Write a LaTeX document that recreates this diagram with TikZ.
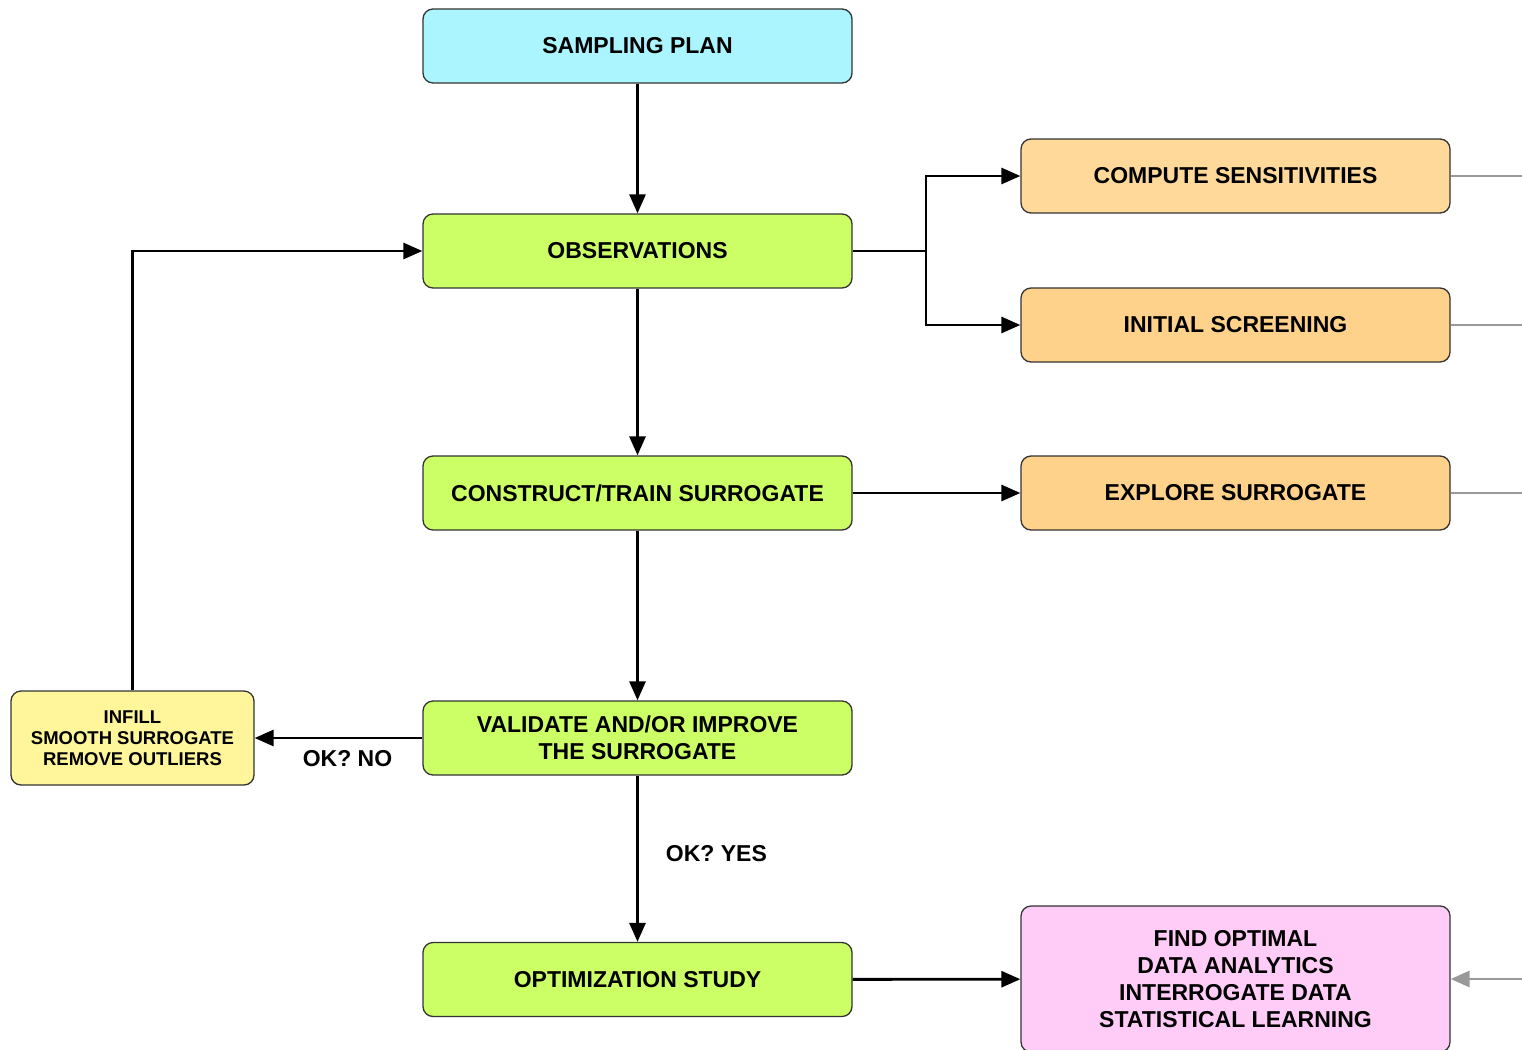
\documentclass[tikz,border=0pt]{standalone}
\usepackage{fontspec}
\setmainfont{Liberation Sans}
\usetikzlibrary{arrows.meta}
\definecolor{plancyan}{HTML}{AAF5FF}
\definecolor{stepgreen}{HTML}{CCFF66}
\definecolor{sensorange}{HTML}{FFD99A}
\definecolor{exporange}{HTML}{FFD28C}
\definecolor{fixyellow}{HTML}{FFF59A}
\definecolor{resultpink}{HTML}{FFCCF7}
\definecolor{feedgray}{HTML}{999999}
\tikzset{
  box/.style={draw=black!80, line width=1.3pt, rounded corners=10pt,
    minimum width=429pt, minimum height=74pt, inner sep=0pt, align=center,
    font=\fontsize{23}{27}\selectfont\bfseries},
  flow/.style={draw=black, line width=2.9pt, -{Triangle[length=19pt,width=16pt]}},
  plainflow/.style={draw=black, line width=2.9pt},
  feed/.style={draw=feedgray, line width=2.9pt},
  feedarrow/.style={feed, -{Triangle[length=19pt,width=16pt]}},
  lbl/.style={font=\fontsize{23}{27}\selectfont\bfseries, inner sep=0pt}
}
\begin{document}
\begin{tikzpicture}[x=1pt, y=-1pt]
\useasboundingbox (0,0) rectangle (1522,1049);

% main chain
\node[box, fill=plancyan]  (plan)  at (637.5,46)  {SAMPLING PLAN};
\node[box, fill=stepgreen] (obs)   at (637.5,251) {OBSERVATIONS};
\node[box, fill=stepgreen] (train) at (637.5,493) {CONSTRUCT/TRAIN SURROGATE};
\node[box, fill=stepgreen] (valid) at (637.5,738) {VALIDATE AND/OR IMPROVE\\THE SURROGATE};
\node[box, fill=stepgreen] (optim) at (637.5,979.5) {OPTIMIZATION STUDY};

% side outputs
\node[box, fill=sensorange] (sens)    at (1235.5,176) {COMPUTE SENSITIVITIES};
\node[box, fill=exporange]  (screen)  at (1235.5,325) {INITIAL SCREENING};
\node[box, fill=exporange]  (explore) at (1235.5,493) {EXPLORE SURROGATE};
\node[box, fill=resultpink, minimum height=146pt] (find) at (1235.5,979)
  {FIND OPTIMAL\\DATA ANALYTICS\\INTERROGATE DATA\\STATISTICAL LEARNING};

% repair step
\node[box, fill=fixyellow, minimum width=243pt, minimum height=94pt,
  font=\fontsize{18.5}{21}\selectfont\bfseries] (fix) at (132.5,738)
  {INFILL\\SMOOTH SURROGATE\\REMOVE OUTLIERS};

% branch point and loose ends
\coordinate (split) at (926,251);
\coordinate (sensout)    at (1522,176);
\coordinate (screenout)  at (1522,325);
\coordinate (exploreout) at (1522,493);
\coordinate (findin)     at (1522,979);
\coordinate (loop)       at (132.5,251);

% connectors
\draw[flow] (plan) -- (obs);
\draw[flow] (obs) -- (train);
\draw[flow] (train) -- (valid);
\draw[flow] (valid) -- node[lbl, right, xshift=27pt, yshift=5pt] {OK? YES} (optim);
\draw[flow] (valid) -- node[lbl, below, yshift=-11pt, xshift=9pt] {OK? NO} (fix);
\draw[flow] (fix.north) -- (loop) -- (obs.west);
\draw[plainflow] (obs.east) -- (split);
\draw[flow] (split) |- (sens.west);
\draw[flow] (split) |- (screen.west);
\draw[flow] (train) -- (explore);
\draw[flow] (optim) -- (find);

% feedback lines leaving the picture
\draw[feed] (sens.east) -- (sensout);
\draw[feed] (screen.east) -- (screenout);
\draw[feed] (explore.east) -- (exploreout);
\draw[feedarrow] (findin) -- (find.east);
\end{tikzpicture}
\end{document}
